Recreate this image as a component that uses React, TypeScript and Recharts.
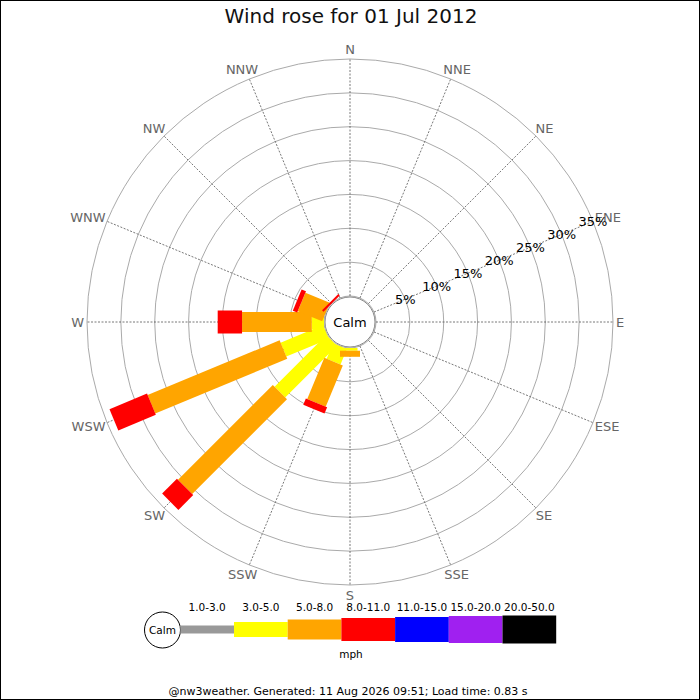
import React from 'react';
import { RadarChart, PolarGrid, PolarAngleAxis, PolarRadiusAxis, Radar, Legend } from 'recharts';

// ---------- data ----------
const directions = ['N', 'NNE', 'NE', 'ENE', 'E', 'ESE', 'SE', 'SSE', 'S', 'SSW', 'SW', 'WSW', 'W', 'WNW', 'NW', 'NNW'];
const speedBins = ['1.0-3.0', '3.0-5.0', '5.0-8.0', '8.0-11.0', '11.0-15.0', '15.0-20.0', '20.0-50.0'];
const percentTicks = [0, 5, 10, 15, 20, 25, 30, 35];

//                 N  NNE NE ENE E ESE SE SSE  S    SSW  SW    WSW   W     WNW  NW   NNW
const pct1to3   = [0, 0, 0, 0, 0, 0, 0, 0, 0,   0,   0,    0,    0,    0,   0,   0];
const pct3to5   = [0, 0, 0, 0, 0, 0, 0, 0, 0.4, 2.5, 10.8, 6.8,  1.8,  0,   0,   0];
const pct5to8   = [0, 0, 0, 0, 0, 0, 0, 0, 0.9, 6.6, 19.8, 21.1, 10.3, 3.9, 0,   0];
const pct8to11  = [0, 0, 0, 0, 0, 0, 0, 0, 0,   1.0, 3.1,  6.0,  3.6,  0.7, 0.3, 0];
const pct11to15 = [0, 0, 0, 0, 0, 0, 0, 0, 0,   0,   0,    0,    0,    0,   0,   0];
const pct15to20 = [0, 0, 0, 0, 0, 0, 0, 0, 0,   0,   0,    0,    0,    0,   0,   0];
const pct20to50 = [0, 0, 0, 0, 0, 0, 0, 0, 0,   0,   0,    0,    0,    0,   0,   0];

const seriesValues = [pct1to3, pct3to5, pct5to8, pct8to11, pct11to15, pct15to20, pct20to50];

// ---------- styles ----------
const binColors = ['#999999', '#ffff00', '#ffa500', '#ff0000', '#0000ff', '#a020f0', '#000000'];
const binBarWidths = [8, 15, 20, 23, 25, 27, 28];
const FONT = '"DejaVu Sans", sans-serif';
const W = 700;
const H = 700;
const CX = 350;
const CY = 322;
const INNER_R = 26;
const OUTER_R = 263;

const rows = directions.map((dir, i) => {
  const row: any = { dir };
  let acc = 0;
  seriesValues.forEach((s, k) => {
    const lo = acc;
    acc += s[i];
    row['b' + k] = [lo, acc];
  });
  return row;
});

const makeBarShape = (fill: string, width: number) => (props: any) => {
  const points = props.points || [];
  const base = props.baseLinePoints || [];
  return (
    <g>
      {points.map((p: any, i: number) => {
        const b = base[i];
        if (!b) return null;
        const r1 = b.radius;
        const r2 = p.radius;
        if (!(r2 - r1 > 0.05)) return null;
        const rad = (-p.angle * Math.PI) / 180;
        const ux = Math.cos(rad);
        const uy = Math.sin(rad);
        const nx = (-uy * width) / 2;
        const ny = (ux * width) / 2;
        const x1 = p.cx + ux * r1;
        const y1 = p.cy + uy * r1;
        const x2 = p.cx + ux * r2;
        const y2 = p.cy + uy * r2;
        const d = `M${x1 + nx},${y1 + ny}L${x2 + nx},${y2 + ny}L${x2 - nx},${y2 - ny}L${x1 - nx},${y1 - ny}Z`;
        return <path key={i} d={d} fill={fill} stroke="none" />;
      })}
    </g>
  );
};

const charW: Record<string, number> = { N: 9.7, E: 8.2, S: 8.3, W: 12.8 };

const AngleTick = (props: any) => {
  const { x, y, payload } = props;
  const label = String(payload.value);
  const w = label.split('').reduce((s, c) => s + (charW[c] || 9), 0);
  const a = (-payload.coordinate * Math.PI) / 180;
  const ux = Math.cos(a);
  const uy = Math.sin(a);
  const tx = x + ux * (w / 2 - 5);
  const ty = y + uy * 2;
  return (
    <text x={tx} y={ty} textAnchor="middle" dominantBaseline="central" fill="#666" fontSize={13} fontFamily={FONT}>
      {label}
    </text>
  );
};

const RadiusTick = (props: any) => {
  const { x, y, payload } = props;
  if (payload.value === 0) return null;
  return (
    <text x={x} y={y} textAnchor="middle" dominantBaseline="central" fill="#000" fontSize={13} fontFamily={FONT}>
      {payload.value}%
    </text>
  );
};

const LEG_X0 = 180.3;
const LEG_STEP = 53.7;
const LEG_CY = 39.5;

const renderLegend = () => (
  <svg width={W} height={110} style={{ display: 'block' }}>
    <circle cx={162.5} cy={40} r={18} fill="#fff" stroke="#000" strokeWidth={1} />
    <text x={162.5} y={40} textAnchor="middle" dominantBaseline="central" fontSize={10.5} fontFamily={FONT} fill="#000">
      Calm
    </text>
    {speedBins.map((label, k) => (
      <g key={label}>
        <rect
          x={LEG_X0 + k * LEG_STEP}
          y={LEG_CY - binBarWidths[k] / 2}
          width={LEG_STEP}
          height={binBarWidths[k]}
          fill={binColors[k]}
        />
        <text
          x={LEG_X0 + k * LEG_STEP + LEG_STEP / 2}
          y={17}
          textAnchor="middle"
          dominantBaseline="central"
          fontSize={10.5}
          fontFamily={FONT}
          fill="#000"
        >
          {label}
        </text>
      </g>
    ))}
    <text x={351} y={64} textAnchor="middle" dominantBaseline="central" fontSize={10.5} fontFamily={FONT} fill="#000">
      mph
    </text>
  </svg>
);

export default function App() {
  return (
    <div style={{ position: 'absolute', left: 0, top: 0, width: W, height: H, background: '#fff', fontFamily: FONT }}>
      <RadarChart
        width={W}
        height={H}
        data={rows}
        cx={CX}
        cy={CY}
        innerRadius={INNER_R}
        outerRadius={OUTER_R}
        margin={{ top: 0, right: 0, bottom: 0, left: 0 }}
      >
        <PolarGrid gridType="circle" radialLines={false} stroke="#aaaaaa" strokeWidth={1} />
        <PolarGrid gridType="circle" polarRadius={[]} stroke="#555555" strokeWidth={0.8} strokeDasharray="2 1.5" />
        <PolarAngleAxis dataKey="dir" tick={<AngleTick />} tickLine={false} axisLine={false} />
        <PolarRadiusAxis
          angle={22.5}
          domain={[0, 35]}
          ticks={percentTicks}
          tickCount={8}
          type="number"
          axisLine={false}
          tick={<RadiusTick />}
        />
        {speedBins.map((label, k) => (
          <Radar
            key={label}
            name={label}
            dataKey={'b' + k}
            isAnimationActive={false}
            dot={false}
            shape={makeBarShape(binColors[k], binBarWidths[k])}
          />
        ))}
        <Legend content={renderLegend} wrapperStyle={{ left: 0, top: 590, width: W, height: 110 }} />
      </RadarChart>
      <svg width={W} height={H} style={{ position: 'absolute', left: 0, top: 0, pointerEvents: 'none' }}>
        <circle cx={CX} cy={CY} r={INNER_R - 1} fill="#fff" stroke="#888" strokeWidth={1} />
        <text x={CX} y={CY} textAnchor="middle" dominantBaseline="central" fontSize={13} fontFamily={FONT} fill="#000">
          Calm
        </text>
        <text x={351} y={23} textAnchor="middle" fontSize={20} fontFamily={FONT} fill="#111">
          Wind rose for 01 Jul 2012
        </text>
        <text x={348} y={695} textAnchor="middle" fontSize={11} fontFamily={FONT} fill="#000">
          @nw3weather. Generated: 11 Aug 2026 09:51; Load time: 0.83 s
        </text>
        <rect x={0.5} y={0.5} width={W - 1} height={H - 1} fill="none" stroke="#000" strokeWidth={1} />
      </svg>
    </div>
  );
}
